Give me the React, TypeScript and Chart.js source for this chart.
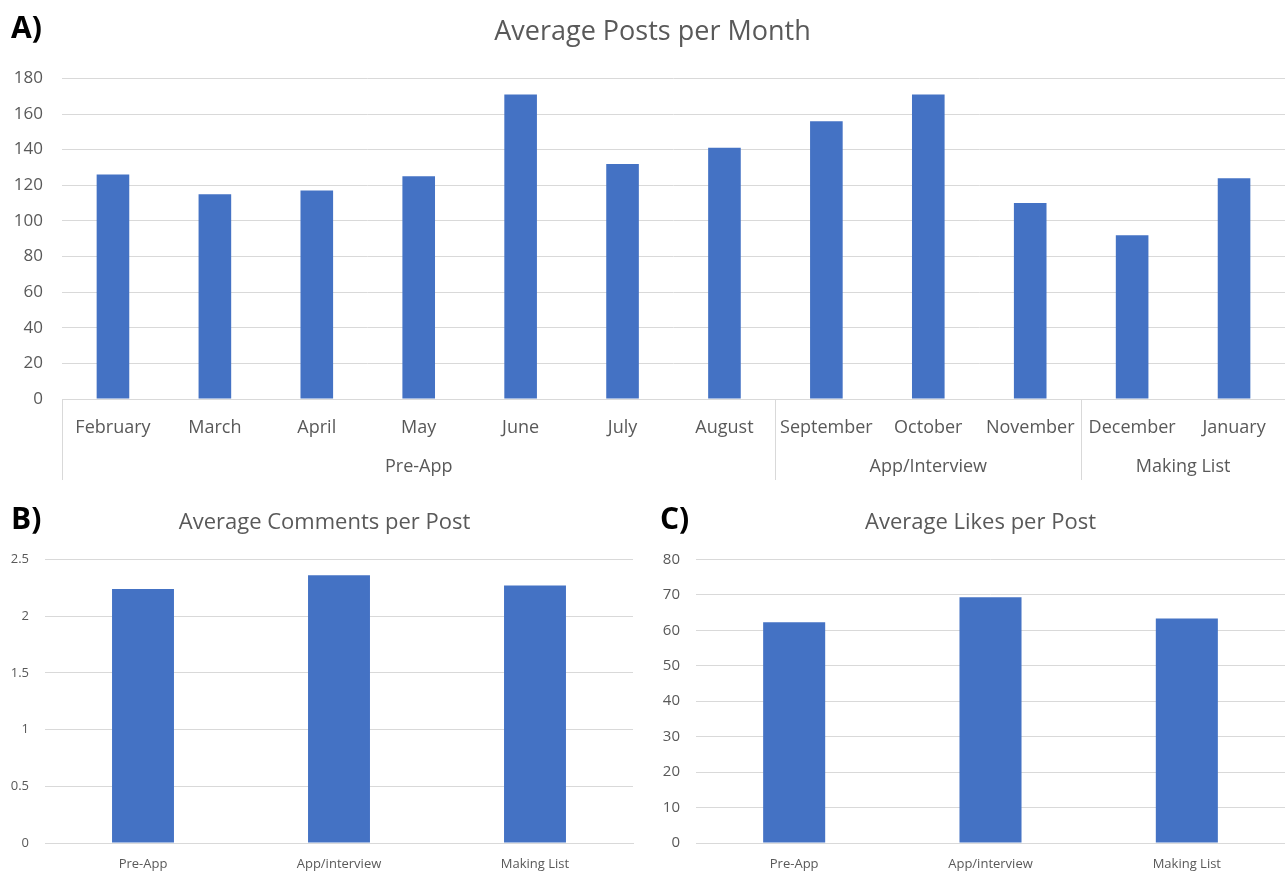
import React, { useEffect, useRef } from "react";
import { Chart, registerables } from "chart.js";

Chart.register(...registerables);

// ---------- data ----------
const monthLabels = [
  "February", "March", "April", "May", "June", "July", "August",
  "September", "October", "November", "December", "January",
];
const monthPosts = [126, 115, 117, 125, 171, 132, 141, 156, 171, 110, 92, 124];
const phaseGroups = ["Pre-App", "App/Interview", "Making List"];
const phaseGroupSizes = [7, 3, 2];

const phaseLabels = ["Pre-App", "App/interview", "Making List"];
const commentsPerPost = [2.24, 2.36, 2.27];
const likesPerPost = [62.3, 69.3, 63.3];

const postsTicks = { min: 0, max: 180, step: 20 };
const commentsTicks = { min: 0, max: 2.5, step: 0.5 };
const likesTicks = { min: 0, max: 80, step: 10 };

// ---------- styles ----------
const FONT = "'Open Sans', 'Noto Sans', sans-serif";
const TEXT = "#595959";
const GRID = "#d9d9d9";
const BAR = "#4472c4";

const groupPlugin = {
  id: "phaseGroups",
  afterDraw(chart: any) {
    const x = chart.scales.x;
    const ctx = chart.ctx;
    const half = (x.getPixelForValue(1) - x.getPixelForValue(0)) / 2;
    let start = 0;
    ctx.save();
    ctx.strokeStyle = GRID;
    ctx.lineWidth = 1;
    ctx.fillStyle = TEXT;
    ctx.font = `18px ${FONT}`;
    ctx.textAlign = "center";
    ctx.textBaseline = "middle";
    phaseGroups.forEach((g, i) => {
      const end = start + phaseGroupSizes[i] - 1;
      const left = x.getPixelForValue(start) - half;
      const right = x.getPixelForValue(end) + half;
      const lx = Math.round(left) + 0.5;
      ctx.beginPath();
      ctx.moveTo(lx, x.top);
      ctx.lineTo(lx, x.top + 81);
      ctx.stroke();
      ctx.fillText(g, (left + right) / 2, x.top + 68);
      start = end + 1;
    });
    ctx.restore();
  },
};

function titleShiftPlugin(dx: number) {
  return {
    id: "titleShift",
    afterLayout(chart: any) {
      const t = chart.titleBlock;
      if (t) {
        t.left += dx;
        t.right += dx;
      }
    },
  };
}

function makeConfig(opts: {
  labels: string[];
  values: number[];
  title: string;
  titleSize: number;
  titlePadTop: number;
  titlePadBottom: number;
  titleShift: number;
  ticks: { min: number; max: number; step: number };
  yFont: number;
  yWidth: number;
  yPad: number;
  xFont: number;
  xHeight: number;
  xPad: number;
  padRight: number;
  catPct: number;
  plugins?: any[];
}) {
  return {
    type: "bar",
    data: {
      labels: opts.labels,
      datasets: [
        {
          data: opts.values,
          backgroundColor: BAR,
          borderWidth: 0,
          barPercentage: 1,
          categoryPercentage: opts.catPct,
        },
      ],
    },
    plugins: [titleShiftPlugin(opts.titleShift), ...(opts.plugins || [])],
    options: {
      animation: false,
      responsive: true,
      maintainAspectRatio: false,
      layout: { padding: { left: 0, right: opts.padRight, top: 0, bottom: 0 } },
      plugins: {
        legend: { display: false },
        tooltip: { enabled: false },
        title: {
          display: true,
          text: opts.title,
          color: TEXT,
          font: { family: FONT, size: opts.titleSize, weight: "normal" },
          padding: { top: opts.titlePadTop, bottom: opts.titlePadBottom },
        },
      },
      scales: {
        x: {
          grid: { display: false, drawTicks: false },
          border: { display: true, color: GRID, width: 1 },
          ticks: {
            color: TEXT,
            font: { family: FONT, size: opts.xFont },
            padding: opts.xPad,
            maxRotation: 0,
            autoSkip: false,
          },
          afterFit(s: any) {
            s.height = opts.xHeight;
          },
        },
        y: {
          min: opts.ticks.min,
          max: opts.ticks.max,
          grid: { color: GRID, lineWidth: 1, drawTicks: false },
          border: { display: false },
          ticks: {
            stepSize: opts.ticks.step,
            color: TEXT,
            font: { family: FONT, size: opts.yFont },
            padding: opts.yPad,
            callback: (v: any) => `${Number(v)}`,
          },
          afterFit(s: any) {
            s.width = opts.yWidth;
          },
        },
      },
    },
  };
}

function ChartBox(props: { left: number; top: number; width: number; height: number; config: any }) {
  const ref = useRef<HTMLCanvasElement | null>(null);
  useEffect(() => {
    if (!ref.current) return;
    const chart = new Chart(ref.current, props.config);
    return () => chart.destroy();
  }, []);
  return (
    <div
      style={{
        position: "absolute",
        left: props.left,
        top: props.top,
        width: props.width,
        height: props.height,
      }}
    >
      <canvas ref={ref} style={{ display: "block" }} />
    </div>
  );
}

const letterStyle: React.CSSProperties = {
  position: "absolute",
  fontFamily: FONT,
  fontWeight: 700,
  fontSize: 30,
  lineHeight: 1,
  color: "#000",
};

export default function App() {
  const postsConfig = makeConfig({
    labels: monthLabels,
    values: monthPosts,
    title: "Average Posts per Month",
    titleSize: 27,
    titlePadTop: 16,
    titlePadBottom: 30,
    titleShift: 10,
    ticks: postsTicks,
    yFont: 17,
    yWidth: 62,
    yPad: 19,
    xFont: 18,
    xHeight: 91,
    xPad: 18,
    padRight: 0,
    catPct: 0.32,
    plugins: [groupPlugin],
  });
  const commentsConfig = makeConfig({
    labels: phaseLabels,
    values: commentsPerPost,
    title: "Average Comments per Post",
    titleSize: 22,
    titlePadTop: 20,
    titlePadBottom: 23,
    titleShift: 8,
    ticks: commentsTicks,
    yFont: 13,
    yWidth: 45,
    yPad: 16,
    xFont: 13,
    xHeight: 30,
    xPad: 13,
    padRight: 7,
    catPct: 0.316,
  });
  const likesConfig = makeConfig({
    labels: phaseLabels,
    values: likesPerPost,
    title: "Average Likes per Post",
    titleSize: 22,
    titlePadTop: 20,
    titlePadBottom: 23,
    titleShift: 18,
    ticks: likesTicks,
    yFont: 15,
    yWidth: 56,
    yPad: 16,
    xFont: 13,
    xHeight: 30,
    xPad: 13,
    padRight: 0,
    catPct: 0.316,
  });

  return (
    <div
      style={{
        position: "fixed",
        left: 0,
        top: 0,
        width: 1285,
        height: 873,
        background: "#fff",
        overflow: "hidden",
      }}
    >
      <ChartBox left={0} top={0} width={1285} height={490} config={postsConfig} />
      <ChartBox left={0} top={490} width={640} height={383} config={commentsConfig} />
      <ChartBox left={640} top={490} width={645} height={383} config={likesConfig} />
      <div style={{ ...letterStyle, left: 11, top: 12 }}>A)</div>
      <div style={{ ...letterStyle, left: 11, top: 503 }}>B)</div>
      <div style={{ ...letterStyle, left: 660, top: 503 }}>C)</div>
    </div>
  );
}
